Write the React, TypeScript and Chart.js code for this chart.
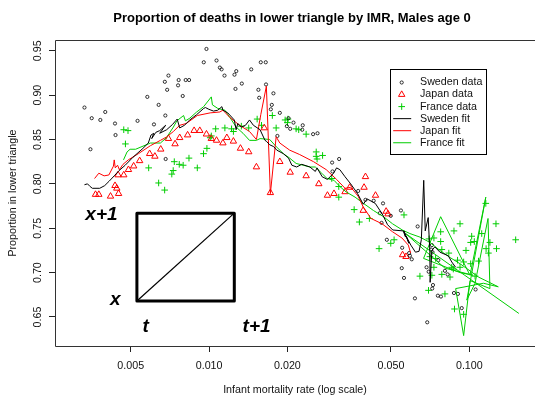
import React, { useEffect, useRef } from "react";
import { Chart, registerables } from "chart.js";

Chart.register(...registerables);

const FONT = '"Liberation Sans", Arial, Helvetica, sans-serif';
const GREEN = "#00CD00";
const RED = "#FF0000";
const BLACK = "#000000";

const titleText = "Proportion of deaths in lower triangle by IMR, Males age 0";
const xAxisTitle = "Infant mortality rate (log scale)";
const yAxisTitle = "Proportion in lower triangle";

const xTickValues = [0.005, 0.01, 0.02, 0.05, 0.1];
const xTickLabels = ["0.005", "0.010", "0.020", "0.050", "0.100"];
const yTickValues = [0.65, 0.7, 0.75, 0.8, 0.85, 0.9, 0.95];
const yTickLabels = ["0.65", "0.70", "0.75", "0.80", "0.85", "0.90", "0.95"];

const xRange = [0.002558, 0.1788];
const yRange = [0.6173, 0.9621];

const legendLabels = ["Sweden data", "Japan data", "France data", "Sweden fit", "Japan fit", "France fit"];

// Sweden data
const swedenImr = [
  0.00977, 0.00954, 0.00332, 0.00354, 0.00382, 0.00399, 0.00435, 0.0035, 0.00531, 0.00579,
  0.0064, 0.00679, 0.00614, 0.00681, 0.00698, 0.00676, 0.0069, 0.00764, 0.0076, 0.00813,
  0.00838, 0.00792, 0.01068, 0.011, 0.01117, 0.01146, 0.01272, 0.01252, 0.01336, 0.01263,
  0.01452, 0.0158, 0.01651, 0.01655, 0.01547, 0.01767, 0.01558, 0.01742, 0.01727, 0.0187,
  0.0202, 0.0211, 0.0199, 0.0205, 0.0229, 0.0228, 0.0251, 0.0261, 0.0183, 0.0297,
  0.0316, 0.00437, 0.0298, 0.0374, 0.0399, 0.0429, 0.0466, 0.0453, 0.046, 0.0499,
  0.0546, 0.0482, 0.0552, 0.0587, 0.0591, 0.0601, 0.055, 0.0561, 0.0633, 0.0618,
  0.0689, 0.0685, 0.0725, 0.0757, 0.0778, 0.0873, 0.0904, 0.0825, 0.1057, 0.0935,
  0.076, 0.0718, 0.0713, 0.0722, 0.0698, 0.072, 0.0806,
];
const swedenProp = [
  0.952, 0.937, 0.886, 0.874, 0.872, 0.881, 0.868, 0.839, 0.871, 0.898,
  0.889, 0.877, 0.867, 0.828, 0.922, 0.915, 0.906, 0.917, 0.911, 0.917,
  0.917, 0.899, 0.939, 0.931, 0.929, 0.922, 0.927, 0.923, 0.913, 0.907,
  0.929, 0.937, 0.937, 0.912, 0.906, 0.902, 0.897, 0.889, 0.884, 0.88,
  0.874, 0.869, 0.865, 0.862, 0.866, 0.861, 0.856, 0.857, 0.854, 0.824,
  0.828, 0.855, 0.814, 0.792, 0.782, 0.781, 0.778, 0.767, 0.756, 0.764,
  0.77, 0.737, 0.728, 0.722, 0.719, 0.715, 0.705, 0.694, 0.752, 0.671,
  0.644, 0.706, 0.686, 0.674, 0.673, 0.677, 0.676, 0.698, 0.681, 0.66,
  0.714, 0.731, 0.726, 0.723, 0.701, 0.682, 0.702,
];

// Japan data
const japanImr = [
  0.00366, 0.00377, 0.00418, 0.00449, 0.00435, 0.00442, 0.00447, 0.0047, 0.0049, 0.00513,
  0.00541, 0.00591, 0.00619, 0.00652, 0.00698, 0.0074, 0.00771, 0.00827, 0.00876, 0.00921,
  0.00977, 0.0102, 0.01068, 0.0113, 0.0117, 0.0124, 0.0132, 0.0142, 0.0152, 0.0163,
  0.0172, 0.0187, 0.0205, 0.0236, 0.0264, 0.0285, 0.0302, 0.0333, 0.0399, 0.0394,
  0.0436, 0.0347, 0.0391, 0.0479, 0.0487, 0.0554, 0.0571,
];
const japanProp = [
  0.788, 0.788, 0.786, 0.789, 0.798, 0.795, 0.81, 0.81, 0.816, 0.82,
  0.826, 0.834, 0.831, 0.839, 0.851, 0.845, 0.852, 0.855, 0.86, 0.86,
  0.856, 0.851, 0.849, 0.846, 0.852, 0.848, 0.84, 0.836, 0.819, 0.863,
  0.79, 0.825, 0.813, 0.809, 0.8, 0.787, 0.789, 0.791, 0.808, 0.796,
  0.787, 0.796, 0.77, 0.769, 0.766, 0.72, 0.718,
];

// France data
const franceImr = [
  0.0047, 0.00488, 0.00477, 0.00586, 0.0064, 0.00675, 0.00735, 0.00768, 0.00795, 0.00728,
  0.00719, 0.00837, 0.00901, 0.00952, 0.00981, 0.0101, 0.0102, 0.0106, 0.0115, 0.0122,
  0.0124, 0.0133, 0.0142, 0.0153, 0.0159, 0.0175, 0.0181, 0.0196, 0.0201, 0.02,
  0.0216, 0.0221, 0.0236, 0.0258, 0.0258, 0.026, 0.0273, 0.0296, 0.0315, 0.0315,
  0.0361, 0.0378, 0.0413, 0.045, 0.0499, 0.0514, 0.0561, 0.0646, 0.0697, 0.0706,
  0.1157, 0.0921, 0.1266, 0.0873, 0.0776, 0.1021, 0.1045, 0.1012, 0.1116, 0.1507,
  0.0731, 0.07, 0.0776, 0.12, 0.1272, 0.0784, 0.0971, 0.116, 0.1184, 0.0834,
  0.0742, 0.0901, 0.0951, 0.1085, 0.1012, 0.0731, 0.0856, 0.0868, 0.0921, 0.0718,
  0.0784, 0.0843, 0.1052, 0.0806, 0.0877, 0.0951,
];
const franceProp = [
  0.861, 0.86, 0.845, 0.818, 0.801, 0.793, 0.825, 0.822, 0.821, 0.815,
  0.811, 0.829, 0.818, 0.834, 0.84, 0.852, 0.854, 0.862, 0.863, 0.862,
  0.859, 0.865, 0.863, 0.873, 0.866, 0.877, 0.863, 0.872, 0.873, 0.869,
  0.862, 0.861, 0.856, 0.836, 0.831, 0.828, 0.832, 0.806, 0.797, 0.785,
  0.771, 0.757, 0.761, 0.727, 0.733, 0.737, 0.765, 0.696, 0.68, 0.718,
  0.778, 0.755, 0.755, 0.747, 0.746, 0.741, 0.735, 0.734, 0.744, 0.737,
  0.739, 0.738, 0.735, 0.734, 0.727, 0.726, 0.725, 0.727, 0.722, 0.722,
  0.716, 0.714, 0.712, 0.713, 0.71, 0.706, 0.706, 0.704, 0.706, 0.697,
  0.698, 0.695, 0.696, 0.676, 0.659, 0.653,
];

// Sweden fit
const swedenFitImr = [
  0.00332, 0.00341, 0.00349, 0.00356, 0.0038, 0.00397, 0.00413, 0.00432, 0.00451, 0.00476,
  0.0051, 0.00557, 0.00584, 0.00598, 0.00613, 0.00602, 0.00624, 0.00646, 0.00681, 0.00646,
  0.00687, 0.00724, 0.00754, 0.00771, 0.00804, 0.00843, 0.00896, 0.00953, 0.00968, 0.00998,
  0.0104, 0.0108, 0.0112, 0.0113, 0.0118, 0.0125, 0.0127, 0.0129, 0.0133, 0.0138,
  0.0143, 0.0148, 0.0157, 0.0164, 0.0166, 0.0171, 0.0177, 0.0182, 0.0193, 0.0202,
  0.0208, 0.0217, 0.0227, 0.0244, 0.0256, 0.026, 0.0272, 0.0285, 0.0301, 0.0309,
  0.0318, 0.0333, 0.035, 0.0372, 0.0391, 0.0405, 0.0435, 0.0463, 0.0485, 0.0508,
  0.0557, 0.0569, 0.0561, 0.0586, 0.0572, 0.0596, 0.0621, 0.0641, 0.0654, 0.0668,
  0.0677, 0.0695, 0.0705, 0.0707, 0.0718, 0.0737, 0.0771, 0.083, 0.0856, 0.0886,
];
const swedenFitProp = [
  0.799, 0.8, 0.797, 0.795, 0.795, 0.798, 0.803, 0.809, 0.815, 0.821,
  0.83, 0.84, 0.846, 0.855, 0.857, 0.851, 0.858, 0.86, 0.866, 0.857,
  0.861, 0.867, 0.873, 0.863, 0.866, 0.872, 0.878, 0.885, 0.886, 0.884,
  0.882, 0.883, 0.887, 0.883, 0.88, 0.872, 0.861, 0.868, 0.864, 0.866,
  0.872, 0.866, 0.861, 0.849, 0.848, 0.844, 0.842, 0.838, 0.834, 0.829,
  0.821, 0.819, 0.822, 0.819, 0.814, 0.818, 0.808, 0.805, 0.812, 0.818,
  0.816, 0.808, 0.8, 0.789, 0.777, 0.783, 0.778, 0.766, 0.754, 0.748,
  0.747, 0.74, 0.747, 0.733, 0.741, 0.731, 0.723, 0.724, 0.737, 0.804,
  0.747, 0.762, 0.725, 0.689, 0.725, 0.729, 0.723, 0.719, 0.712, 0.706,
];

// Japan fit
const japanFitImr = [
  0.00363, 0.00377, 0.00395, 0.00412, 0.00429, 0.00432, 0.00436, 0.00445, 0.00452, 0.00467,
  0.00489, 0.00535, 0.00595, 0.0065, 0.00688, 0.00729, 0.00771, 0.00817, 0.00901, 0.0101,
  0.011, 0.0113, 0.012, 0.0131, 0.0143, 0.0152, 0.0158, 0.0166, 0.0172, 0.0181,
  0.0187, 0.0204, 0.0223, 0.0252, 0.0282, 0.0309, 0.0333, 0.0348, 0.0358, 0.0374,
  0.0391, 0.0419, 0.0462, 0.0507, 0.0551, 0.0583, 0.0595,
];
const japanFitProp = [
  0.806, 0.812, 0.809, 0.81, 0.82, 0.827, 0.818, 0.821, 0.816, 0.822,
  0.827, 0.834, 0.843, 0.849, 0.853, 0.859, 0.866, 0.868, 0.877, 0.88,
  0.881, 0.883, 0.875, 0.866, 0.859, 0.85, 0.878, 0.91, 0.789, 0.853,
  0.846, 0.838, 0.833, 0.825, 0.816, 0.805, 0.795, 0.796, 0.793, 0.786,
  0.774, 0.761, 0.755, 0.746, 0.739, 0.731, 0.722,
];

// France fit
const franceFitImr = [
  0.00469, 0.00484, 0.00497, 0.00522, 0.00595, 0.0065, 0.00686, 0.00729, 0.00752, 0.00798,
  0.00811, 0.00843, 0.00896, 0.00953, 0.0102, 0.0103, 0.0108, 0.0115, 0.0122, 0.0127,
  0.0135, 0.0143, 0.0152, 0.0157, 0.0171, 0.0181, 0.0193, 0.0204, 0.0216, 0.023,
  0.0244, 0.0256, 0.0271, 0.0284, 0.0302, 0.0318, 0.0336, 0.0364, 0.0392, 0.0428,
  0.0468, 0.0507, 0.0553, 0.0591, 0.0646, 0.0706, 0.0771, 0.0843, 0.0921, 0.1006,
  0.1084, 0.1292, 0.1133, 0.0886, 0.0951, 0.1006, 0.12, 0.118, 0.1052, 0.0978,
  0.1157, 0.1006, 0.0776, 0.0667, 0.0921, 0.1035, 0.0806, 0.0569, 0.155,
];
const franceFitProp = [
  0.827, 0.836, 0.839, 0.839, 0.846, 0.846, 0.852, 0.864, 0.871, 0.877,
  0.871, 0.874, 0.881, 0.887, 0.898, 0.889, 0.885, 0.883, 0.872, 0.864,
  0.857, 0.849, 0.849, 0.851, 0.85, 0.842, 0.834, 0.829, 0.823, 0.821,
  0.819, 0.819, 0.812, 0.806, 0.804, 0.797, 0.791, 0.785, 0.778, 0.77,
  0.763, 0.755, 0.748, 0.744, 0.74, 0.734, 0.725, 0.717, 0.71, 0.702,
  0.695, 0.684, 0.688, 0.682, 0.629, 0.691, 0.682, 0.761, 0.688, 0.669,
  0.785, 0.697, 0.763, 0.716, 0.7, 0.697, 0.705, 0.744, 0.654,
];

// Lexis diagram inset (data coordinates)
const lexisImr = [0.00528, 0.0125];
const lexisProp = [0.668, 0.767];
const lexisLabels = ["x+1", "x", "t", "t+1"];
const lexisLabelImr = [0.00445, 0.00457, 0.00555, 0.01345];
const lexisLabelProp = [0.7591, 0.664, 0.6333, 0.6333];
const lexisLabelAlign = ["right", "right", "left", "left"];

function pts(xs: number[], ys: number[]) {
  return xs.map((x, i) => ({ x, y: ys[i] }));
}

const CIRCLE_R = 1.6;
const TRI_R = 3.7;
const CROSS_R = 3.3;

function drawSymbol(ctx: CanvasRenderingContext2D, kind: number, cx: number, cy: number) {
  ctx.beginPath();
  if (kind === 0) {
    ctx.strokeStyle = BLACK;
    ctx.lineWidth = 0.8;
    ctx.arc(cx, cy, CIRCLE_R, 0, Math.PI * 2);
    ctx.stroke();
  } else if (kind === 1) {
    ctx.strokeStyle = RED;
    ctx.lineWidth = 1;
    for (let k = 0; k < 3; k++) {
      const a = (k * 2 * Math.PI) / 3;
      const px = cx + Math.sin(a) * TRI_R;
      const py = cy - Math.cos(a) * TRI_R;
      if (k === 0) ctx.moveTo(px, py);
      else ctx.lineTo(px, py);
    }
    ctx.closePath();
    ctx.stroke();
  } else if (kind === 2) {
    ctx.strokeStyle = GREEN;
    ctx.lineWidth = 1;
    ctx.moveTo(cx - CROSS_R, cy);
    ctx.lineTo(cx + CROSS_R, cy);
    ctx.moveTo(cx, cy - CROSS_R);
    ctx.lineTo(cx, cy + CROSS_R);
    ctx.stroke();
  } else {
    ctx.strokeStyle = kind === 3 ? BLACK : kind === 4 ? RED : GREEN;
    ctx.lineWidth = 1;
    ctx.moveTo(cx - 8.5, cy);
    ctx.lineTo(cx + 9.5, cy);
    ctx.stroke();
  }
}

export default function App() {
  const ref = useRef<HTMLCanvasElement>(null);

  useEffect(() => {
    document.body.style.margin = "0";
    const canvas = ref.current;
    if (!canvas) return;

    const overlay = {
      id: "overlay",
      afterDraw(chart: any) {
        const { ctx, chartArea: a } = chart;
        const xs = chart.scales.x;
        const ys = chart.scales.y;
        ctx.save();

        // plot box (right side lies beyond the canvas)
        ctx.strokeStyle = "#333";
        ctx.lineWidth = 1;
        ctx.beginPath();
        ctx.moveTo(a.right + 2, a.top + 0.5);
        ctx.lineTo(a.left + 0.5, a.top + 0.5);
        ctx.lineTo(a.left + 0.5, a.bottom + 0.5);
        ctx.lineTo(a.right + 2, a.bottom + 0.5);
        ctx.stroke();

        // tick labels
        ctx.fillStyle = "#111";
        ctx.font = `10.7px ${FONT}`;
        ctx.textAlign = "center";
        ctx.textBaseline = "middle";
        xTickValues.forEach((v, i) => {
          ctx.fillText(xTickLabels[i], xs.getPixelForValue(v), a.bottom + 19.7);
        });
        yTickValues.forEach((v, i) => {
          ctx.save();
          ctx.translate(a.left - 16.5, ys.getPixelForValue(v));
          ctx.rotate(-Math.PI / 2);
          ctx.fillText(yTickLabels[i], 0, 0);
          ctx.restore();
        });

        // axis titles
        const cxp = (a.left + a.right) / 2;
        ctx.fillText(xAxisTitle, cxp, 390.5);
        ctx.save();
        ctx.translate(13, (a.top + a.bottom) / 2);
        ctx.rotate(-Math.PI / 2);
        ctx.fillText(yAxisTitle, 0, 0);
        ctx.restore();

        // main title
        ctx.fillStyle = "#000";
        ctx.font = `bold 13px ${FONT}`;
        ctx.fillText(titleText, cxp - 3, 18);

        // legend
        ctx.fillStyle = "#fff";
        ctx.fillRect(390.5, 69.5, 96, 85);
        ctx.strokeStyle = "#000";
        ctx.lineWidth = 1;
        ctx.strokeRect(390.5, 69.5, 96, 85);
        ctx.font = `10.7px ${FONT}`;
        ctx.textAlign = "left";
        ctx.textBaseline = "middle";
        legendLabels.forEach((lab, i) => {
          const cy = 82.5 + i * 12.05;
          drawSymbol(ctx, i, 401.7, cy);
          ctx.fillStyle = "#111";
          ctx.fillText(lab, 420, cy);
        });

        // Lexis diagram
        const px0 = xs.getPixelForValue(lexisImr[0]);
        const px1 = xs.getPixelForValue(lexisImr[1]);
        const py0 = ys.getPixelForValue(lexisProp[0]);
        const py1 = ys.getPixelForValue(lexisProp[1]);
        ctx.strokeStyle = "#000";
        ctx.lineJoin = "round";
        ctx.lineWidth = 3;
        ctx.strokeRect(px0, py1, px1 - px0, py0 - py1);
        ctx.lineWidth = 1.2;
        ctx.beginPath();
        ctx.moveTo(px0, py0);
        ctx.lineTo(px1, py1);
        ctx.stroke();

        ctx.fillStyle = "#000";
        ctx.font = `italic bold 19px ${FONT}`;
        ctx.textBaseline = "alphabetic";
        lexisLabels.forEach((lab, i) => {
          ctx.textAlign = lexisLabelAlign[i] as CanvasTextAlign;
          ctx.fillText(lab, xs.getPixelForValue(lexisLabelImr[i]), ys.getPixelForValue(lexisLabelProp[i]));
        });

        ctx.restore();
      },
    };

    const chart = new Chart(canvas, {
      type: "scatter",
      data: {
        datasets: [
          {
            label: "Sweden fit",
            data: pts(swedenFitImr, swedenFitProp),
            showLine: true,
            borderColor: BLACK,
            borderWidth: 1,
            pointRadius: 0,
            tension: 0,
            order: 0,
          },
          {
            label: "Japan fit",
            data: pts(japanFitImr, japanFitProp),
            showLine: true,
            borderColor: RED,
            borderWidth: 1,
            pointRadius: 0,
            tension: 0,
            order: 0,
          },
          {
            label: "France fit",
            data: pts(franceFitImr, franceFitProp),
            showLine: true,
            borderColor: GREEN,
            borderWidth: 1,
            pointRadius: 0,
            tension: 0,
            order: 0,
          },
          {
            label: "Sweden data",
            data: pts(swedenImr, swedenProp),
            pointStyle: "circle",
            pointRadius: CIRCLE_R,
            pointBorderWidth: 0.8,
            pointBorderColor: BLACK,
            pointBackgroundColor: "rgba(0,0,0,0)",
            order: 1,
          },
          {
            label: "Japan data",
            data: pts(japanImr, japanProp),
            pointStyle: "triangle",
            pointRadius: TRI_R,
            pointBorderWidth: 1,
            pointBorderColor: RED,
            pointBackgroundColor: "rgba(0,0,0,0)",
            order: 1,
          },
          {
            label: "France data",
            data: pts(franceImr, franceProp),
            pointStyle: "cross",
            pointRadius: CROSS_R,
            pointBorderWidth: 1,
            pointBorderColor: GREEN,
            pointBackgroundColor: "rgba(0,0,0,0)",
            order: 1,
          },
        ] as any,
      },
      options: {
        animation: false,
        responsive: false,
        devicePixelRatio: 1,
        events: [],
        layout: { autoPadding: false, padding: { top: 40, right: 0, bottom: 0, left: 0 } },
        plugins: {
          legend: { display: false },
          title: { display: false },
          tooltip: { enabled: false },
        },
        scales: {
          x: {
            type: "logarithmic",
            min: xRange[0],
            max: xRange[1],
            bounds: "data",
            afterBuildTicks: (s: any) => {
              s.ticks = xTickValues.map((v) => ({ value: v }));
            },
            afterFit: (s: any) => {
              s.height = 51;
            },
            ticks: { display: false },
            grid: { display: true, drawOnChartArea: false, drawTicks: true, tickLength: 6, color: "#222", lineWidth: 1 },
            border: { display: false },
          },
          y: {
            type: "linear",
            min: yRange[0],
            max: yRange[1],
            bounds: "data",
            afterBuildTicks: (s: any) => {
              s.ticks = yTickValues.map((v) => ({ value: v }));
            },
            afterFit: (s: any) => {
              s.width = 55;
            },
            ticks: { display: false },
            grid: { display: true, drawOnChartArea: false, drawTicks: true, tickLength: 6, color: "#222", lineWidth: 1 },
            border: { display: false },
          },
        },
      } as any,
      plugins: [overlay],
    });

    return () => chart.destroy();
  }, []);

  return (
    <canvas
      ref={ref}
      width={535}
      height={397}
      style={{ display: "block", width: "535px", height: "397px" }}
    />
  );
}
